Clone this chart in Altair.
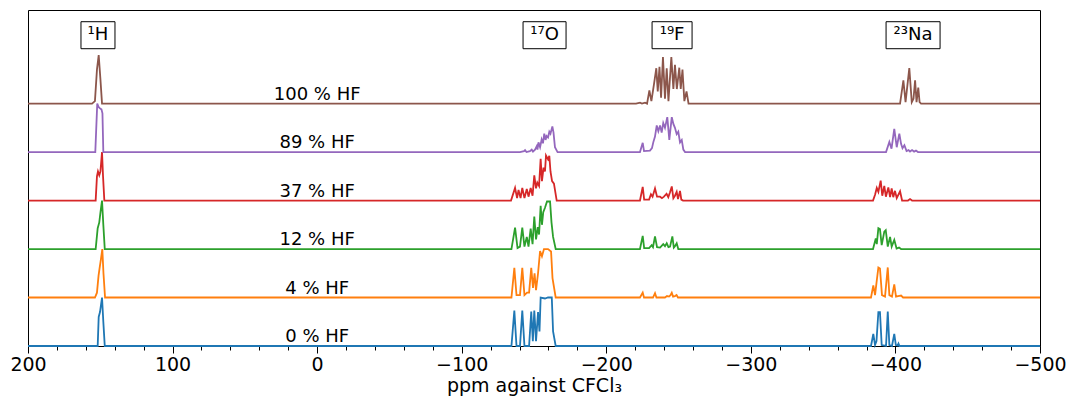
import altair as alt
import pandas as pd

series_names = ["0 % HF", "4 % HF", "12 % HF", "37 % HF", "89 % HF", "100 % HF"]
series_colors = ["#1f77b4", "#ff7f0e", "#2ca02c", "#d62728", "#9467bd", "#8c564b"]

# ---- spectra: (ppm, normalised intensity) ----
hf0 = [
    (151.8, 0), (151.1, 0.6), (150.2, 0.7), (149.5, 0.85), (148.8, 1.0), (147.9, 0.5), (146.9, 0),
    (-134.4, 0), (-136.4, 0.73), (-137.9, 0), (-140.3, 0), (-141.9, 0.73), (-143.4, 0), (-146.6, 0),
    (-148.1, 0.71), (-149.2, 0.1), (-150.2, 0.73), (-151.4, 0.1), (-152.8, 0.7), (-153.8, 0.3),
    (-154.6, 1.0), (-157.6, 0.98), (-159.7, 1.0), (-162.3, 1.0), (-163.2, 0.3), (-165.0, 0),
    (-383.1, 0), (-384.7, 0.25), (-385.9, 0.02), (-386.9, 0.1), (-388.2, 0.7), (-389.3, 0.7),
    (-390.5, 0.02), (-393.5, 0), (-394.7, 0.71), (-395.8, 0.02), (-397.6, 0), (-399.2, 0.25),
    (-400.3, 0.02), (-401.5, 0.01), (-402.1, 0.05), (-402.8, 0),
]
hf4 = [
    (153.7, 0), (152.3, 0.1), (151.2, 0.45), (150.5, 0.6), (149.5, 0.8), (148.6, 1.0), (147.8, 0.5), (146.7, 0),
    (-134.4, 0), (-136.4, 0.61), (-137.9, 0.05), (-140.3, 0.05), (-141.9, 0.61), (-143.4, 0.05),
    (-145.2, 0.1), (-146.6, 0.1), (-148.1, 0.61), (-149.3, 0.2), (-150.4, 0.5), (-151.4, 0.15),
    (-152.8, 0.5), (-154.2, 0.96), (-155.5, 0.85), (-156.9, 1.0), (-159.7, 1.0), (-161.8, 0.95),
    (-162.8, 0.4), (-165.0, 0),
    (-223.3, 0), (-225.2, 0.1), (-226.1, 0), (-232.3, 0), (-233.7, 0.09), (-234.7, 0), (-240.6, 0),
    (-242.0, 0.03), (-243.4, 0.02), (-244.4, 0.05), (-245.3, 0.1), (-246.2, 0.02), (-247.5, 0.03),
    (-248.6, 0.05), (-249.6, 0),
    (-383.1, 0), (-384.7, 0.25), (-385.9, 0.05), (-386.9, 0.3), (-388.2, 0.62), (-389.3, 0.6),
    (-390.7, 0.05), (-392.8, 0.02), (-394.7, 0.62), (-395.8, 0.05), (-397.6, 0.02), (-399.2, 0.27),
    (-400.4, 0.02), (-401.8, 0.03), (-403.9, 0.04), (-405.3, 0),
]
hf12 = [
    (153.2, 0), (151.8, 0.43), (150.7, 0.55), (149.9, 0.75), (148.8, 1.0), (147.9, 0.5), (146.9, 0),
    (-134.4, 0), (-136.9, 0.44), (-138.6, 0.02), (-140.3, 0.05), (-141.9, 0.44), (-143.4, 0.05),
    (-145.0, 0.25), (-146.2, 0.05), (-147.7, 0.42), (-149.0, 0.1), (-150.2, 0.67), (-151.4, 0.2),
    (-152.6, 0.45), (-153.5, 0.3), (-154.6, 0.89), (-155.5, 0.5), (-156.4, 0.76), (-157.6, 0.85),
    (-159.0, 0.98), (-161.1, 0.98), (-162.1, 0.55), (-163.2, 0.25), (-165.0, 0),
    (-223.3, 0), (-225.2, 0.27), (-226.2, 0.02), (-229.6, 0.02), (-231.4, 0.08), (-232.3, 0.04),
    (-233.7, 0.26), (-235.1, 0.04), (-237.2, 0.03), (-239.4, 0.1), (-240.6, 0.06), (-241.8, 0.12),
    (-243.0, 0.04), (-244.1, 0.05), (-245.7, 0.26), (-246.7, 0.03), (-247.5, 0.06), (-248.7, 0.12),
    (-249.8, 0), (-251.7, 0),
    (-384.5, 0), (-386.4, 0.22), (-387.1, 0.1), (-388.2, 0.43), (-389.3, 0.41), (-390.5, 0.08),
    (-392.3, 0.36), (-393.3, 0.39), (-394.7, 0.05), (-396.3, 0.25), (-397.4, 0.05), (-399.2, 0.19),
    (-400.8, 0.01), (-402.5, 0.03), (-403.9, 0),
]
hf37 = [
    (153.2, 0), (152.3, 0.5), (151.6, 0.6), (150.7, 0.52), (149.9, 0.6), (148.8, 1.0), (148.1, 0.5), (147.2, 0),
    (-134.1, 0), (-136.9, 0.26), (-138.3, 0.05), (-139.3, 0.22), (-140.7, 0.05), (-141.9, 0.26),
    (-143.4, 0.05), (-145.0, 0.24), (-146.2, 0.08), (-147.7, 0.26), (-149.0, 0.1), (-150.2, 0.52),
    (-151.4, 0.25), (-152.3, 0.37), (-153.5, 0.3), (-154.6, 0.86), (-155.5, 0.4), (-156.6, 0.68),
    (-157.6, 0.6), (-158.3, 0.93), (-159.7, 0.85), (-160.6, 0.92), (-161.4, 0.6), (-162.5, 0.4),
    (-163.8, 0.35), (-165.7, 0),
    (-223.3, 0), (-225.2, 0.28), (-226.2, 0.02), (-229.6, 0.02), (-230.9, 0.13), (-232.0, 0.08),
    (-233.7, 0.25), (-235.1, 0.08), (-237.2, 0.08), (-238.5, 0.05), (-239.9, 0.08), (-241.7, 0.14),
    (-242.9, 0.07), (-244.1, 0.17), (-245.3, 0.29), (-246.4, 0.05), (-247.5, 0.1), (-248.7, 0.18),
    (-249.6, 0.03), (-251.0, 0.2), (-251.9, 0.02), (-253.1, 0),
    (-384.5, 0), (-385.9, 0.12), (-387.1, 0.26), (-388.2, 0.18), (-389.8, 0.41), (-390.9, 0.1),
    (-392.3, 0.3), (-393.4, 0.08), (-395.1, 0.27), (-396.3, 0.07), (-397.4, 0.25), (-398.5, 0.07),
    (-399.7, 0.2), (-400.9, 0.05), (-403.2, 0.19), (-404.6, 0), (-408.7, 0), (-410.1, 0.03), (-411.5, 0),
]
hf89 = [
    (153.45, 0), (152.1, 1.0), (151.2, 0.93), (150.2, 0.9), (149.2, 0.88), (148.5, 0.8), (147.9, 0),
    (-140.3, 0), (-143.1, 0.02), (-143.8, 0.04), (-144.8, 0), (-147.2, 0.02), (-148.4, 0.05),
    (-149.3, 0.01), (-150.7, 0.05), (-151.9, 0.12), (-152.4, 0.05), (-153.1, 0.2), (-154.2, 0.1),
    (-155.3, 0.26), (-156.2, 0.18), (-157.1, 0.38), (-158.0, 0.25), (-158.7, 0.33), (-159.7, 0.3),
    (-160.6, 0.42), (-161.4, 0.38), (-162.7, 0.53), (-163.5, 0.4), (-164.5, 0.1), (-166.3, 0),
    (-223.3, 0), (-225.2, 0.19), (-226.1, 0.02), (-230.2, 0.03), (-231.6, 0.08), (-232.5, 0.2),
    (-233.7, 0.32), (-234.9, 0.55), (-236.0, 0.43), (-237.2, 0.55), (-238.3, 0.4), (-239.4, 0.6),
    (-240.6, 0.5), (-242.2, 0.72), (-243.6, 0.25), (-245.3, 0.72), (-246.4, 0.58), (-247.5, 0.5),
    (-248.7, 0.37), (-249.8, 0.42), (-251.0, 0.2), (-252.2, 0.25), (-253.3, 0.05), (-254.5, 0),
    (-393.5, 0), (-395.8, 0.21), (-397.3, 0.07), (-399.2, 0.48), (-400.9, 0.1), (-402.7, 0.38),
    (-403.9, 0.17), (-404.9, 0.08), (-406.2, 0.14), (-407.7, 0.02), (-409.1, 0.04), (-410.1, 0.01),
    (-411.5, 0.04), (-412.9, 0.01), (-414.2, 0.03), (-415.6, 0),
]
hf100 = [
    (155.7, 0), (153.7, 0.05), (152.3, 0.7), (151.1, 1.0), (149.9, 0.5), (148.8, 0),
    (-220.6, 0), (-223.3, 0.02), (-224.7, 0), (-226.8, 0.02), (-228.2, 0), (-229.8, 0.27),
    (-231.2, 0.05), (-233.0, 0.4), (-234.6, 0.73), (-235.6, 0.25), (-236.8, 0.76), (-237.9, 0.12),
    (-239.2, 0.96), (-240.6, 0.1), (-241.8, 0.73), (-243.0, 0.05), (-245.0, 0.96), (-246.4, 0.3),
    (-247.5, 0.8), (-248.8, 0.3), (-250.5, 0.74), (-251.5, 0.3), (-252.7, 0.7), (-254.0, 0.05),
    (-255.5, 0.25), (-256.9, 0),
    (-403.2, 0), (-405.5, 0.48), (-407.0, 0.03), (-409.6, 0.73), (-411.3, 0.03), (-412.5, 0.1),
    (-413.6, 0.48), (-414.6, 0.03), (-415.8, 0.33), (-416.7, 0.03), (-417.7, 0),
]
spectra = [hf0, hf4, hf12, hf37, hf89, hf100]

nucleus_labels = ["\u00b9H", "\u00b9\u2077O", "\u00b9\u2079F", "\u00b2\u00b3Na"]
nucleus_ppm = [151.6, -157.3, -245.5, -412.2]
nucleus_box_px = [34, 43, 40, 54]

x_ticks_major = [200, 100, 0, -100, -200, -300, -400, -500]
x_ticks_minor = [v for v in range(200, -501, -20) if v % 100 != 0]

# ---- build tables ----
rows = []
for k, (name, spec) in enumerate(zip(series_names, spectra)):
    pts = [(200.0, 0.0)] + spec + [(-500.0, 0.0)]
    for ppm, inten in pts:
        rows.append({"series": name, "ppm": ppm, "y": inten + k})
df = pd.DataFrame(rows)

lab_df = pd.DataFrame({"series": series_names, "ppm": [0.0] * 6, "y": list(range(6))})

FONT = "DejaVu Sans"
xscale = alt.Scale(domain=[200, -500], nice=False, zero=False)
yscale = alt.Scale(domain=[0, 6.93], nice=False, zero=False)

lines = alt.Chart(df).mark_line(strokeWidth=1.8, interpolate="linear").encode(
    x=alt.X("ppm:Q", scale=xscale,
            axis=alt.Axis(values=x_ticks_major, orient="bottom", tickSize=7,
                          labelOverlap=False, labelFlush=False, labelPadding=2,
                          labelFont=FONT, labelFontSize=19, labelColor="black",
                          tickColor="black", domainColor="black", grid=False,
                          title="ppm against CFCl\u2083", titleFont=FONT, titleFontSize=19,
                          titleFontWeight="normal", titleColor="black", titlePadding=2)),
    y=alt.Y("y:Q", scale=yscale, axis=None),
    color=alt.Color("series:N", scale=alt.Scale(domain=series_names, range=series_colors), legend=None),
    order=alt.Order("ppm:Q", sort="descending"),
)

minor_axis = alt.Chart(lab_df).mark_text(opacity=0).encode(
    x=alt.X("ppm:Q", scale=xscale,
            axis=alt.Axis(values=x_ticks_minor, orient="bottom", tickSize=4, labels=False,
                          domain=False, grid=False, tickColor="black", title=None)),
    y=alt.Y("y:Q", scale=yscale, axis=None),
    text="series:N",
)

hf_text = alt.Chart(lab_df).mark_text(font=FONT, fontSize=18, baseline="bottom", align="center", color="black").encode(
    x=alt.X("ppm:Q", scale=xscale, axis=None),
    y=alt.Y("y:Q", scale=yscale, axis=None),
    text="series:N",
)

layers = [lines, minor_axis, hf_text]
for lab, ppm, w in zip(nucleus_labels, nucleus_ppm, nucleus_box_px):
    d = pd.DataFrame({"label": [lab], "ppm": [ppm], "y": [6.41]})
    box = alt.Chart(d).mark_rect(width=w, height=27, fill="white", stroke="black", strokeWidth=1).encode(
        x=alt.X("ppm:Q", scale=xscale, axis=None), y=alt.Y("y:Q", scale=yscale, axis=None))
    txt = alt.Chart(d).mark_text(font=FONT, fontSize=18, baseline="middle", align="center", color="black").encode(
        x=alt.X("ppm:Q", scale=xscale, axis=None), y=alt.Y("y:Q", scale=yscale, axis=None), text="label:N")
    layers += [box, txt]

chart = alt.layer(*layers).resolve_axis(x="independent").properties(
    width=1012, height=336,
    padding={"left": 28, "top": 10, "right": 29, "bottom": 50},
    autosize=alt.AutoSizeParams(type="none"),
    background="white",
).configure_view(stroke="black", strokeWidth=1)

chart.save("out.html", embed_options={"renderer": "svg", "actions": False})
